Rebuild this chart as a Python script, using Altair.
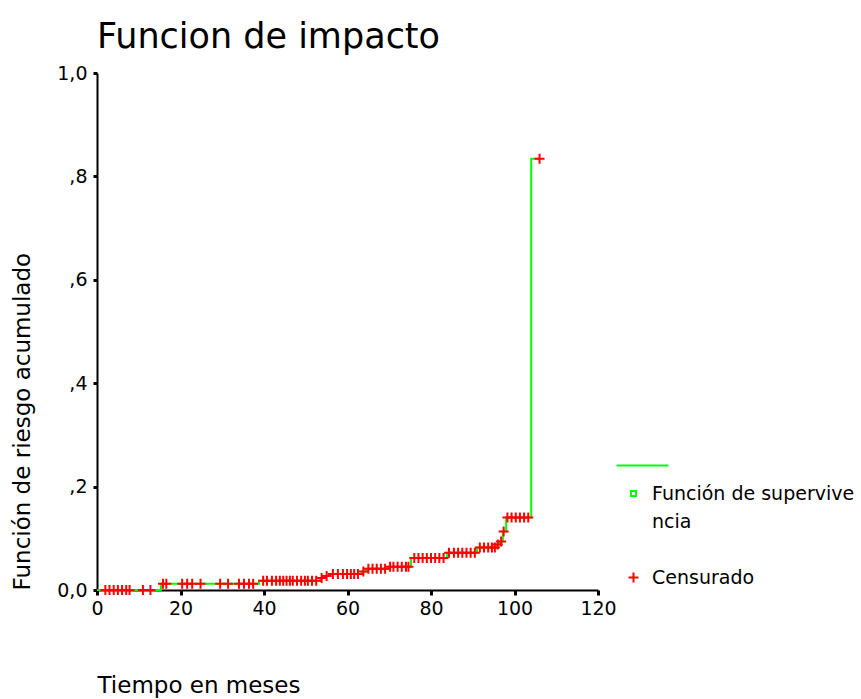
import bisect
import altair as alt
import pandas as pd

# Step function (cumulative hazard)
step_time = [0, 15.3, 38.8, 53.5, 54.8, 55.7, 63.5, 64.5, 69.8, 75.2, 83.8,
             91.0, 95.8, 96.5, 97.2, 98.0, 104.0, 106.0]
step_hazard = [0.0, 0.012, 0.018, 0.023, 0.027, 0.031, 0.036, 0.041, 0.045,
               0.062, 0.072, 0.082, 0.088, 0.094, 0.113, 0.140, 0.834, 0.834]

# Censored observation times
censored_time = [
    2, 3, 4, 5, 6, 7, 7.8, 11, 12.8,
    15.8, 16.6, 20.4, 21.6, 22.8, 24.8, 29.5, 31.4, 34, 35.2, 36.4, 37.4,
    39.8, 40.7, 41.9, 42.9, 43.8, 44.6, 45.4, 46.2, 46.9, 47.9, 48.9, 49.8,
    50.5, 51.5, 52.5,
    53.8, 55,
    56.5, 57.7, 58.9, 59.9, 60.8, 61.6, 62.5,
    63.8,
    65, 66, 67, 68, 69,
    70.2, 71, 72, 73, 74, 74.6,
    76, 77, 78, 79, 80, 81, 82, 83,
    84.3, 85.5, 86.5, 87.5, 88.5, 89.5, 90.5,
    91.7, 92.7, 93.7, 94.6, 95.3,
    96, 96.8, 97.4,
    98.3, 99.3, 100.3, 101.3, 102.3, 103.3,
    106,
]

x_ticks = [0, 20, 40, 60, 80, 100, 120]
y_ticks = [0, 0.2, 0.4, 0.6, 0.8, 1.0]

legend_domain = [" ", "Función de supervive", "ncia", "  ", "Censurado"]
legend_shapes = ["M-3.4,0H7", "M-0.5,-0.5H0.5V0.5H-0.5Z", "M0,0H0.01",
                 "M0,0H0.01", "M-1,0H1M0,-1V1"]
legend_colors = ["#00ff00", "#00ff00", "transparent", "transparent", "#ff0000"]

FONT = "DejaVu Sans"

line_df = pd.DataFrame({"t": step_time, "h": step_hazard})


def hazard_at(t):
    i = bisect.bisect_right(step_time, t) - 1
    return step_hazard[i]


cens_df = pd.DataFrame({
    "t": censored_time,
    "h": [hazard_at(t) for t in censored_time],
    "series": ["Censurado"] * len(censored_time),
})

x_axis = alt.Axis(
    values=x_ticks, grid=False, tickSize=5, tickWidth=3, tickColor="black",
    domainColor="black", domainWidth=2, labelFontSize=19, labelFont=FONT,
    labelColor="black", labelPadding=4, labelFlush=False, title="Tiempo en meses",
    titleFont=FONT, titleFontSize=23, titleFontWeight="normal",
    titleColor="black", titleX=0, titleY=95, titleAlign="left",
    titleBaseline="middle", titleAngle=0,
)
y_axis = alt.Axis(
    values=y_ticks, grid=False, tickSize=4, tickWidth=3, tickColor="black",
    domainColor="black", domainWidth=2, labelFontSize=19, labelFont=FONT,
    labelColor="black", labelPadding=6, labelFlush=False,
    labelExpr="datum.value == 0 ? '0,0' : datum.value == 1 ? '1,0' : ',' + format(round(datum.value * 10), 'd')",
    title="Función de riesgo acumulado", titleFont=FONT, titleFontSize=23,
    titleFontWeight="normal", titleColor="black", titleX=-75, titleY=517,
    titleAngle=270, titleAlign="left", titleBaseline="middle",
)

x_enc = alt.X("t:Q", scale=alt.Scale(domain=[0, 120], nice=False), axis=x_axis)
y_enc = alt.Y("h:Q", scale=alt.Scale(domain=[0, 1], nice=False), axis=y_axis)

legend = alt.Legend(
    title=None, orient="none", legendX=527, legendY=383,
    labelFont=FONT, labelFontSize=19, labelColor="black", labelLimit=400,
    symbolStrokeWidth=2, symbolSize=100, rowPadding=8, labelOffset=9,
    padding=0,
)

line = alt.Chart(line_df).mark_line(
    interpolate="step-after", color="#00ff00", strokeWidth=2
).encode(x=x_enc, y=y_enc)

pts = alt.Chart(cens_df).mark_point(
    size=100, strokeWidth=2, filled=False, opacity=1
).encode(
    x="t:Q",
    y="h:Q",
    shape=alt.Shape("series:N", scale=alt.Scale(domain=legend_domain, range=legend_shapes), legend=legend),
    color=alt.Color("series:N", scale=alt.Scale(domain=legend_domain, range=legend_colors), legend=legend),
)

chart = alt.layer(line, pts).properties(
    width=501,
    height=517,
    title=alt.TitleParams(
        "Funcion de impacto", anchor="start", frame="group", font=FONT,
        fontSize=35, fontWeight="normal", color="black", offset=9,
    ),
    autosize=alt.AutoSizeParams(type="none"),
    padding={"left": 97, "top": 73, "right": 263, "bottom": 109},
    background="white",
).configure_view(stroke=None)

chart.save("out.html", embed_options={"renderer": "svg", "actions": False})
